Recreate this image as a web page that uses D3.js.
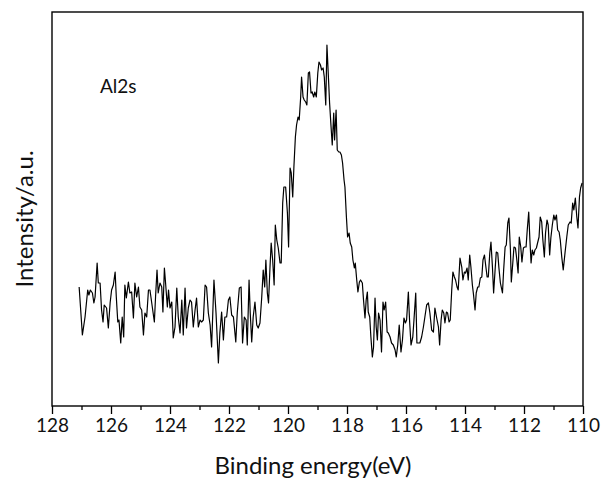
<!DOCTYPE html>
<html>
<head>
<meta charset="utf-8">
<script src="https://cdn.jsdelivr.net/npm/d3@7"></script>
<style>
  body { margin: 0; background: #fff; }
  svg { display: block; font-family: Lato, "Open Sans", sans-serif; }
</style>
</head>
<body>
<svg id="chart" width="605" height="482"></svg>
<script>
// --- Data ---
const xTicks = [128, 126, 124, 122, 120, 118, 116, 114, 112, 110];
const xMinorTicks = [127, 125, 123, 121, 119, 117, 115, 113, 111];
const xTitle = "Binding energy(eV)";
const yTitle = "Intensity/a.u.";
const peakName = "Al2s";

// [binding energy (eV), intensity (a.u.)]
const al2s = [
  [127.08,119],[126.97,71],[126.88,89],[126.79,116],[126.75,111],[126.70,116],[126.63,113],[126.58,103],
  [126.54,109],[126.47,143],[126.43,123],[126.37,123],[126.32,96],[126.27,84],[126.23,101],[126.15,98],
  [126.09,78],[126.03,103],[125.98,116],[125.92,121],[125.86,134],[125.82,109],[125.77,84],[125.73,86],
  [125.67,63],[125.62,89],[125.57,69],[125.53,121],[125.48,108],[125.41,124],[125.36,113],[125.30,114],
  [125.24,88],[125.19,123],[125.13,109],[125.07,119],[125.02,99],[124.96,96],[124.90,71],[124.85,93],
  [124.79,89],[124.73,116],[124.68,116],[124.60,99],[124.53,84],[124.49,109],[124.44,136],[124.40,113],
  [124.34,123],[124.28,119],[124.24,94],[124.19,138],[124.15,123],[124.09,99],[124.05,116],[124.00,98],
  [123.94,104],[123.89,68],[123.83,79],[123.77,118],[123.72,89],[123.66,73],[123.60,106],[123.55,71],
  [123.49,118],[123.44,78],[123.38,98],[123.32,106],[123.27,104],[123.21,79],[123.15,96],[123.10,108],
  [123.04,79],[122.98,86],[122.93,84],[122.87,86],[122.81,121],[122.76,119],[122.70,93],[122.64,81],
  [122.59,59],[122.51,126],[122.44,93],[122.36,43],[122.31,73],[122.25,94],[122.19,66],[122.14,89],
  [122.08,89],[122.02,106],[121.97,109],[121.91,91],[121.85,89],[121.77,64],[121.72,93],[121.65,118],
  [121.59,119],[121.54,63],[121.48,89],[121.42,86],[121.38,61],[121.32,126],[121.28,93],[121.23,64],
  [121.18,89],[121.12,104],[121.06,81],[121.01,78],[120.95,83],[120.89,109],[120.84,136],[120.79,119],
  [120.75,146],[120.70,113],[120.66,103],[120.61,139],[120.57,163],[120.52,146],[120.47,121],[120.43,181],
  [120.38,166],[120.33,158],[120.27,143],[120.23,143],[120.18,203],[120.14,219],[120.08,219],[120.02,193],
  [119.98,159],[119.93,238],[119.89,233],[119.84,209],[119.80,239],[119.75,269],[119.71,281],[119.66,289],
  [119.62,286],[119.57,309],[119.54,329],[119.49,309],[119.45,306],[119.40,304],[119.36,301],[119.31,333],
  [119.27,334],[119.22,313],[119.18,314],[119.13,309],[119.09,314],[119.04,309],[118.99,333],[118.95,344],
  [118.90,341],[118.86,336],[118.81,338],[118.77,329],[118.72,301],[118.68,361],[118.63,329],[118.59,303],
  [118.54,279],[118.50,261],[118.45,293],[118.42,266],[118.37,296],[118.33,256],[118.28,254],[118.24,254],
  [118.19,251],[118.15,243],[118.10,226],[118.07,219],[118.02,189],[117.98,169],[117.93,173],[117.89,163],
  [117.84,159],[117.80,146],[117.75,138],[117.72,143],[117.67,126],[117.63,114],[117.58,124],[117.54,126],
  [117.48,123],[117.44,106],[117.39,88],[117.35,106],[117.31,114],[117.28,94],[117.23,89],[117.19,69],
  [117.14,49],[117.10,59],[117.05,108],[117.01,79],[116.97,66],[116.93,93],[116.88,86],[116.83,54],
  [116.78,104],[116.74,96],[116.69,104],[116.64,74],[116.60,73],[116.54,69],[116.49,63],[116.43,61],
  [116.37,56],[116.33,49],[116.28,61],[116.23,81],[116.17,54],[116.12,66],[116.07,88],[116.02,83],
  [115.98,86],[115.92,114],[115.88,86],[115.83,61],[115.77,69],[115.73,86],[115.67,113],[115.63,63],
  [115.58,63],[115.53,63],[115.47,69],[115.41,79],[115.36,89],[115.30,101],[115.24,103],[115.19,93],
  [115.13,76],[115.07,74],[115.02,98],[114.96,88],[114.90,79],[114.86,61],[114.81,86],[114.77,96],
  [114.72,93],[114.68,83],[114.63,94],[114.59,93],[114.54,84],[114.50,86],[114.45,116],[114.41,134],
  [114.36,129],[114.32,126],[114.27,119],[114.23,116],[114.17,148],[114.11,139],[114.07,126],[114.02,134],
  [113.98,133],[113.93,138],[113.89,126],[113.84,151],[113.80,139],[113.75,121],[113.71,111],[113.66,96],
  [113.62,113],[113.57,119],[113.53,119],[113.48,128],[113.43,129],[113.39,146],[113.34,151],[113.30,141],
  [113.25,129],[113.21,129],[113.16,153],[113.12,164],[113.07,139],[113.03,113],[112.98,136],[112.94,154],
  [112.89,153],[112.85,138],[112.80,123],[112.73,113],[112.69,136],[112.64,159],[112.60,161],[112.55,183],
  [112.51,188],[112.46,156],[112.43,124],[112.38,143],[112.34,159],[112.29,158],[112.25,148],[112.20,133],
  [112.16,169],[112.11,159],[112.07,144],[112.02,158],[111.98,159],[111.93,159],[111.89,176],[111.84,194],
  [111.80,166],[111.76,143],[111.72,156],[111.67,151],[111.63,156],[111.58,158],[111.54,163],[111.49,169],
  [111.45,189],[111.40,184],[111.36,166],[111.31,149],[111.27,173],[111.22,186],[111.18,181],[111.13,151],
  [111.09,168],[111.04,181],[110.99,191],[110.95,186],[110.90,191],[110.86,176],[110.81,174],[110.77,166],
  [110.72,149],[110.67,136],[110.61,153],[110.55,169],[110.50,181],[110.44,184],[110.40,183],[110.35,203],
  [110.31,196],[110.26,208],[110.21,189],[110.17,178],[110.12,209],[110.08,218],[110.03,223]
];

// --- Layout ---
const W = 605, H = 482;
const margin = { top: 12, right: 22, bottom: 76, left: 52 };
const x0 = margin.left, x1 = W - margin.right;
const y0 = H - margin.bottom, y1 = margin.top;

const svg = d3.select("#chart");

const x = d3.scaleLinear().domain([128, 110]).range([x0, x1]);
const y = d3.scaleLinear().domain([0, 394]).range([y0, y1]);

// minor ticks
svg.append("g")
  .attr("transform", `translate(0,${y0})`)
  .call(d3.axisBottom(x).tickValues(xMinorTicks).tickSize(4).tickFormat(""))
  .call(g => g.select(".domain").remove())
  .call(g => g.selectAll("line").attr("stroke", "#000").attr("stroke-width", 1.3));

// major ticks + labels
svg.append("g")
  .attr("transform", `translate(0,${y0})`)
  .call(d3.axisBottom(x).tickValues(xTicks).tickSize(8).tickPadding(5).tickFormat(d3.format("d")))
  .call(g => g.select(".domain").remove())
  .call(g => g.selectAll("line").attr("stroke", "#000").attr("stroke-width", 1.3))
  .call(g => g.selectAll("text")
    .attr("fill", "#111")
    .style("font-family", "Lato, 'Open Sans', sans-serif")
    .style("font-size", "19px"));

// spectrum line
const line = d3.line().x(d => x(d[0])).y(d => y(d[1]));
svg.append("path")
  .datum(al2s)
  .attr("d", line)
  .attr("fill", "none")
  .attr("stroke", "#000")
  .attr("stroke-width", 1.2)
  .attr("stroke-linejoin", "round");

// frame
svg.append("rect")
  .attr("x", x0).attr("y", y1)
  .attr("width", x1 - x0).attr("height", y0 - y1)
  .attr("fill", "none")
  .attr("stroke", "#000")
  .attr("stroke-width", 1.4);

// labels
svg.append("text")
  .attr("x", 100).attr("y", 93)
  .style("font-size", "19px")
  .attr("fill", "#111")
  .text(peakName);

svg.append("text")
  .attr("x", 313).attr("y", 474)
  .attr("text-anchor", "middle")
  .style("font-size", "24px")
  .attr("fill", "#111")
  .text(xTitle);

svg.append("text")
  .attr("transform", `translate(33,219) rotate(-90)`)
  .attr("text-anchor", "middle")
  .style("font-size", "24px")
  .attr("fill", "#111")
  .text(yTitle);
</script>
</body>
</html>
